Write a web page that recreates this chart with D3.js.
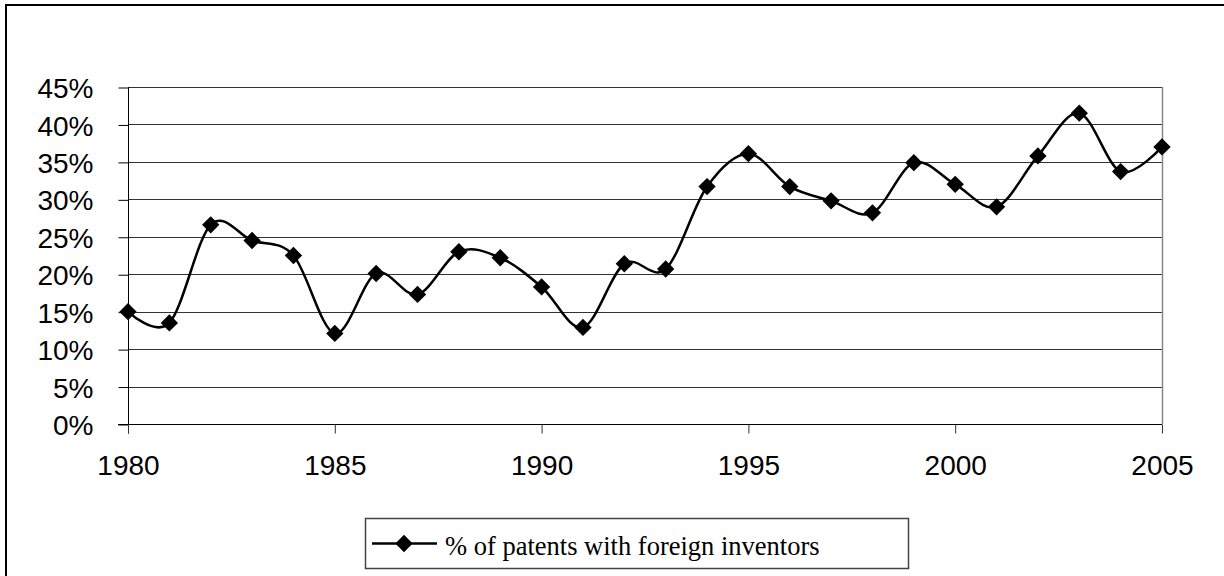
<!DOCTYPE html>
<html>
<head>
<meta charset="utf-8">
<script src="https://cdn.jsdelivr.net/npm/d3@7"></script>
<style>
  body { margin: 0; background: #fff; }
  svg { display: block; }
</style>
</head>
<body>
<svg width="1224" height="576"></svg>
<script>
// values
var years = [1980, 1981, 1982, 1983, 1984, 1985, 1986, 1987, 1988, 1989, 1990, 1991, 1992,
             1993, 1994, 1995, 1996, 1997, 1998, 1999, 2000, 2001, 2002, 2003, 2004, 2005];
var foreignShare = [15.0, 13.5, 26.6, 24.5, 22.5, 12.1, 20.1, 17.3, 23.0, 22.2, 18.3, 12.9, 21.4,
                    20.7, 31.7, 36.1, 31.7, 29.8, 28.2, 34.9, 32.0, 29.0, 35.8, 41.5, 33.7, 37.0];
var yTicks = [0, 5, 10, 15, 20, 25, 30, 35, 40, 45];
var xTicks = [1980, 1985, 1990, 1995, 2000, 2005];
var seriesName = "% of patents with foreign inventors";

var data = years.map((y, i) => ({year: y, value: foreignShare[i]}));

var svg = d3.select("svg");
var margin = {top: 87, right: 62, bottom: 152, left: 128};
var width = 1224, height = 576;

var x = d3.scaleLinear()
    .domain([1980, 2005])
    .range([margin.left, width - margin.right]);

var y = d3.scaleLinear()
    .domain([0, 45])
    .range([height - margin.bottom, margin.top]);

// outer chart frame (runs off the bottom/right of the picture)
svg.append("rect")
    .attr("x", 6).attr("y", 5)
    .attr("width", 1240).attr("height", 600)
    .attr("fill", "none").attr("stroke", "#000").attr("stroke-width", 2);

// gridlines
svg.append("g").attr("id", "grid")
    .selectAll("line")
    .data(yTicks.slice(1)).enter()
    .append("line")
    .attr("x1", x(1980)).attr("x2", x(2005))
    .attr("y1", d => Math.round(y(d)) + 0.5).attr("y2", d => Math.round(y(d)) + 0.5)
    .attr("stroke", "#333").attr("stroke-width", 1);

// right border of plot area
svg.append("line")
    .attr("x1", Math.round(x(2005)) + 0.5).attr("x2", Math.round(x(2005)) + 0.5)
    .attr("y1", y(45)).attr("y2", y(0))
    .attr("stroke", "#888").attr("stroke-width", 1.5);

// y axis
var yAxis = d3.axisLeft(y)
    .tickValues(yTicks)
    .tickSize(10)
    .tickPadding(25)
    .tickFormat(d => d + "%");

svg.append("g")
    .attr("transform", "translate(" + (margin.left + 0.5) + ",0.5)")
    .call(yAxis)
    .call(g => g.select(".domain").attr("d", "M0," + (y(45) - 0.5) + "V" + (y(0) + 9)))
    .call(g => g.selectAll("text")
        .attr("font-family", "Liberation Sans, Arial, sans-serif")
        .attr("font-size", 28).attr("fill", "#000").attr("dy", "0.36em"));

// x axis
var xAxis = d3.axisBottom(x)
    .tickValues(xTicks)
    .tickSize(9)
    .tickPadding(22)
    .tickFormat(d3.format("d"));

svg.append("g")
    .attr("transform", "translate(0," + (Math.round(y(0)) + 0.5) + ")")
    .call(xAxis)
    .call(g => g.select(".domain").attr("d", "M" + (x(1980) - 10) + ",0H" + x(2005)))
    .call(g => g.selectAll(".tick line").attr("stroke", "#333"))
    .call(g => g.selectAll("text")
        .attr("font-family", "Liberation Sans, Arial, sans-serif")
        .attr("font-size", 28).attr("fill", "#000"));

// smoothed series line
var lineMaker = d3.line()
    .x(d => x(d.year))
    .y(d => y(d.value))
    .curve(d3.curveCardinal.tension(0));

var series = svg.append("g").attr("id", "series");

series.append("path")
    .attr("fill", "none").attr("stroke", "#000").attr("stroke-width", 2.5)
    .attr("d", lineMaker(data));

var diamond = d3.symbol(d3.symbolSquare, 150);

series.selectAll("path.marker")
    .data(data).enter()
    .append("path").attr("class", "marker")
    .attr("d", diamond)
    .attr("fill", "#000")
    .attr("transform", d => "translate(" + x(d.year) + "," + y(d.value) + ") rotate(45)");

// legend
var legend = svg.append("g").attr("id", "legend");
legend.append("rect")
    .attr("x", 365.5).attr("y", 518.5)
    .attr("width", 543).attr("height", 50)
    .attr("fill", "#fff").attr("stroke", "#444").attr("stroke-width", 1.5);

legend.append("line")
    .attr("x1", 372).attr("x2", 437).attr("y1", 543.5).attr("y2", 543.5)
    .attr("stroke", "#000").attr("stroke-width", 2.5);

legend.append("path")
    .attr("d", diamond)
    .attr("fill", "#000")
    .attr("transform", "translate(404,543.5) rotate(45)");

legend.append("text")
    .attr("x", 445).attr("y", 555)
    .attr("font-family", "Liberation Serif, Times New Roman, serif")
    .attr("font-size", 26.5).attr("fill", "#000")
    .text(seriesName);
</script>
</body>
</html>
